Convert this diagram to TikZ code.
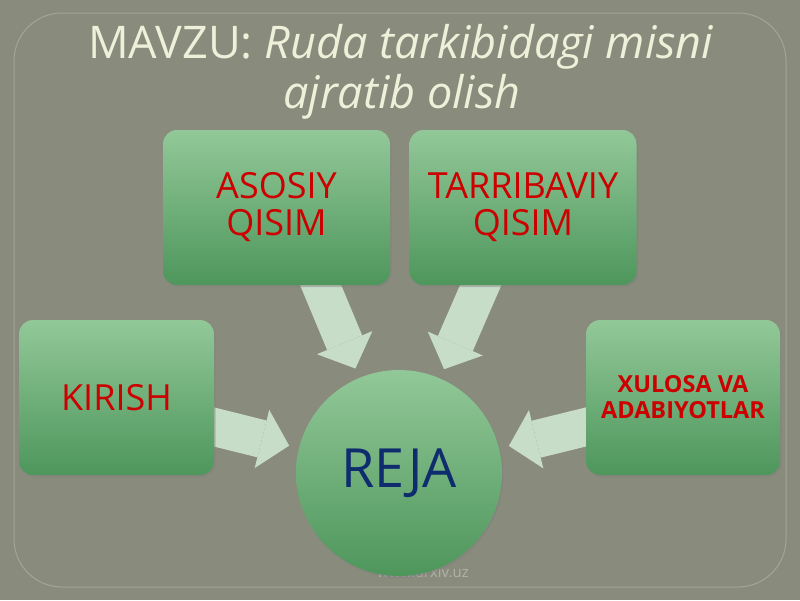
\documentclass[tikz,border=0pt]{standalone}
\usepackage{fontspec}
\setmainfont{Open Sans}
\usetikzlibrary{arrows.meta,shadows}
\definecolor{bgcol}{RGB}{137,139,124}
\definecolor{framecol}{RGB}{163,165,150}
\definecolor{titlecol}{RGB}{238,240,218}
\definecolor{boxtop}{RGB}{146,200,152}
\definecolor{boxbot}{RGB}{78,150,92}
\definecolor{arrcol}{RGB}{200,221,200}
\definecolor{redtxt}{RGB}{204,0,0}
\definecolor{bluetxt}{RGB}{14,44,110}
\definecolor{footcol}{RGB}{176,178,166}
\pgfdeclarelayer{bg}
\pgfdeclarelayer{arr}
\pgfsetlayers{bg,arr,main}

\begin{document}
\begin{tikzpicture}[x=1pt,y=-1pt,
  box/.style={rectangle,rounded corners=14pt,top color=boxtop,bottom color=boxbot,
    minimum height=155pt,align=center,text=redtxt,inner sep=0pt,
    drop shadow={shadow xshift=1.5pt,shadow yshift=-2pt,opacity=0.45},
    font=\fontsize{36}{37}\selectfont},
  blockarrow/.style={line width=38pt,draw=arrcol,
    -{Triangle[length=28pt,width=60pt,line width=0pt]},shorten >=10pt}]
\useasboundingbox (0,0) rectangle (800,600);
\begin{pgfonlayer}{bg}
\fill[bgcol] (0,0) rectangle (800,600);
\draw[framecol,line width=1pt,rounded corners=48pt] (14,13) rectangle (786,587);
\node[text=footcol,font=\fontsize{15}{17}\selectfont] (w) at (423,572) {www.arxiv.uz};
\end{pgfonlayer}
\node[anchor=base,text=titlecol,font=\fontsize{45}{50}\selectfont] (t1) at (401,58)
  {MAVZU: \textit{Ruda tarkibidagi misni}};
\node[anchor=base,text=titlecol,font=\fontsize{45}{50}\selectfont] (t2) at (402,108)
  {\textit{ajratib olish}};
\node[box,minimum width=227pt] (a) at (276.5,207.5) {ASOSIY\\QISIM};
\node[box,minimum width=227pt] (t) at (523,207.5) {TARRIBAVIY\\QISIM};
\node[box,minimum width=195pt] (k) at (116.5,397.5) {KIRISH};
\node[box,minimum width=194pt,font=\bfseries\fontsize{23.5}{26}\selectfont] (x) at (683,397.5)
  {XULOSA VA\\ADABIYOTLAR};
\node[circle,minimum size=206pt,inner sep=0pt,top color=boxtop,bottom color=boxbot,
  drop shadow={shadow xshift=1.5pt,shadow yshift=-2pt,opacity=0.45},
  text=bluetxt,font=\fontsize{54}{60}\selectfont] (r) at (399,473) {REJA};
\begin{pgfonlayer}{arr}
\draw[blockarrow] ([xshift=40pt,yshift=10pt]a.south) -- (r);
\draw[blockarrow] ([xshift=-38pt,yshift=10pt]t.south) -- (r);
\draw[blockarrow] ([xshift=-10pt,yshift=-27pt]k.east) -- (r);
\draw[blockarrow] ([xshift=10pt,yshift=-27pt]x.west) -- (r);
\end{pgfonlayer}
\end{tikzpicture}
\end{document}
